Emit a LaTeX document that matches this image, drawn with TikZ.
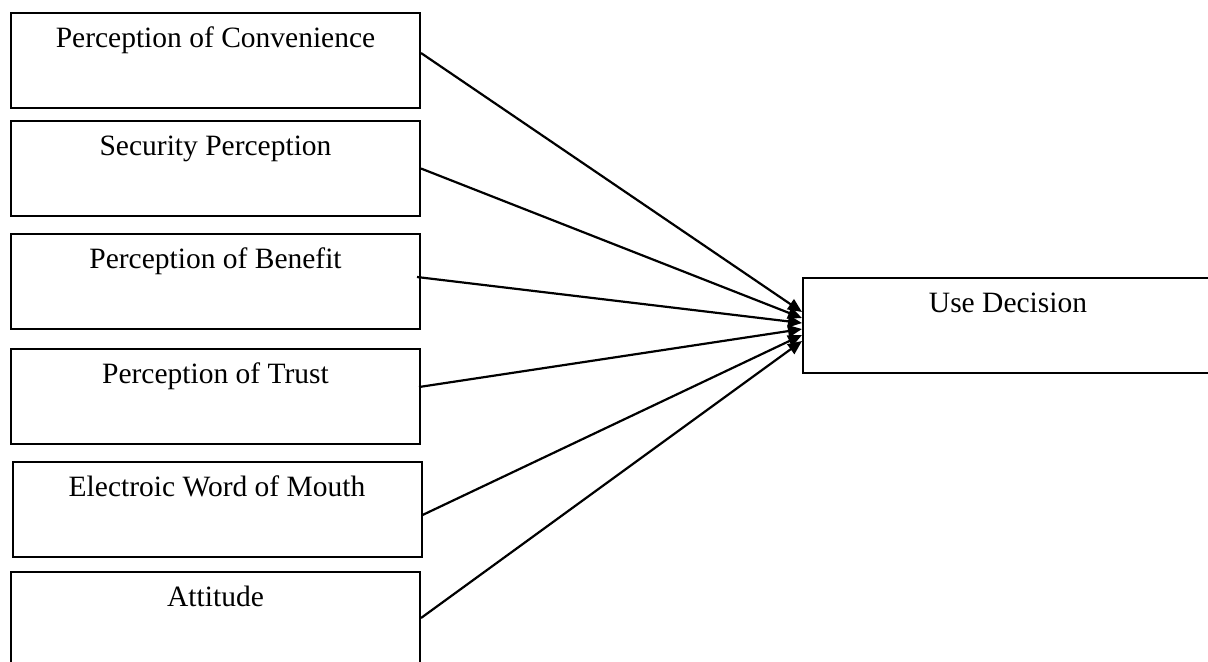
\documentclass[tikz,border=0pt]{standalone}
\usepackage{fontspec}
\setmainfont{Liberation Serif}
\usetikzlibrary{arrows.meta}
\tikzset{
 factor/.style={draw, line width=1pt, rectangle, inner sep=0pt, minimum width=204.5pt,
   text height=17pt, text depth=30.5pt, anchor=north west, font=\fontsize{14.75}{17}\selectfont},
 link/.style={-{Triangle[length=7pt,width=6pt]}, line width=1.1pt}
}
\begin{document}
\begin{tikzpicture}[x=0.5pt,y=-0.5pt]
\clip (0,0) rectangle (1208,661);
 \node[factor] (conv) at (10,12) {Perception of Convenience};
 \node[factor] (secu) at (10,120) {Security Perception};
 \node[factor] (bene) at (10,233) {Perception of Benefit};
 \node[factor] (trus) at (10,348) {Perception of Trust};
 \node[factor] (ewom) at (11.5,461) {Electroic Word of Mouth};
 \node[factor] (atti) at (10,571) {Attitude};
 \node[factor, minimum width=205pt] (dec) at (802,277) {Use Decision};
 \draw[link] ([yshift=3.75pt]conv.east) -- ([yshift=6.75pt]dec.west);
 \draw[link] (secu.east) -- ([yshift=3.75pt]dec.west);
 \draw[link] ([yshift=2.25pt,xshift=-2pt]bene.east) -- ([yshift=1.25pt]dec.west);
 \draw[link] ([yshift=4.75pt,xshift=-1pt]trus.east) -- ([yshift=-1.75pt]dec.west);
 \draw[link] ([yshift=-2.75pt]ewom.east) -- ([yshift=-4.75pt]dec.west);
 \draw[link] ([yshift=0.75pt]atti.east) -- ([yshift=-7.75pt]dec.west);
\end{tikzpicture}
\end{document}
